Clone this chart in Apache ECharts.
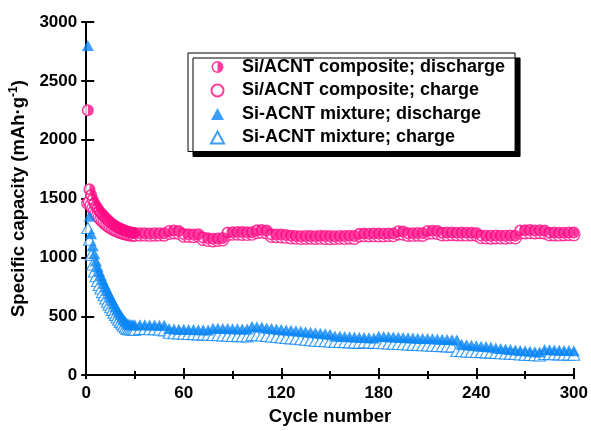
<!DOCTYPE html>
<html>
<head>
<meta charset="utf-8">
<script src="https://cdn.jsdelivr.net/npm/echarts@6/dist/echarts.min.js"></script>
<style>
  html, body { margin: 0; padding: 0; background: #fff; }
  #chart { width: 591px; height: 431px; }
</style>
</head>
<body>
<div id="chart"></div>
<script>
// cycle numbers (every cycle first, then every 3rd)
var cycles = [1,2,3,4,5,6,7,8,9,10,11,12,13,14,15,16,17,18,19,20,21,22,23,24,25,26,27,28,29,30,
  33,36,39,42,45,48,51,54,57,60,63,66,69,72,75,78,81,84,87,90,93,96,99,102,105,108,111,114,117,120,
  123,126,129,132,135,138,141,144,147,150,153,156,159,162,165,168,171,174,177,180,183,186,189,192,195,198,201,204,207,210,
  213,216,219,222,225,228,231,234,237,240,243,246,249,252,255,258,261,264,267,270,273,276,279,282,285,288,291,294,297,300];

// Si/ACNT composite (mAh/g)
var compDischarge = [2250,1580,1530,1490,1460,1435,1415,1395,1378,1362,1347,1333,1320,1307,1295,1284,1274,1265,1257,1250,1243,1237,1231,1226,1221,1217,1213,1210,1208,1207,
  1205,1206,1204,1205,1206,1205,1225,1228,1224,1198,
  1196,1195,1197,1170,1162,1158,1160,1165,1212,1214,
  1216,1215,1213,1214,1230,1232,1228,1196,1195,1194,
  1190,1185,1182,1180,1182,1181,1180,1183,1182,1181,
  1180,1182,1181,1183,1182,1200,1202,1201,1203,1202,
  1201,1203,1202,1222,1220,1205,1206,1207,1205,1225,
  1226,1224,1210,1211,1212,1210,1211,1209,1210,1208,
  1186,1185,1184,1186,1185,1184,1186,1185,1228,1230,
  1232,1229,1231,1228,1210,1211,1209,1210,1212,1211];
var compCharge = [1460,1470,1440,1415,1392,1372,1354,1338,1323,1309,1296,1284,1273,1263,1254,1246,1238,1231,1225,1219,1214,1209,1205,1201,1198,1195,1193,1191,1190,1190,
  1190,1191,1189,1190,1191,1190,1205,1210,1206,1182,
  1180,1178,1181,1152,1145,1142,1146,1150,1195,1198,
  1199,1197,1196,1198,1212,1215,1210,1180,1178,1176,
  1172,1166,1164,1162,1163,1165,1163,1164,1162,1160,
  1163,1164,1162,1165,1163,1182,1185,1184,1185,1183,
  1184,1186,1185,1200,1198,1188,1189,1190,1188,1206,
  1208,1205,1192,1193,1194,1192,1193,1191,1192,1190,
  1168,1166,1165,1167,1166,1165,1168,1166,1208,1210,
  1212,1209,1211,1208,1192,1193,1191,1192,1194,1193];

// Si-ACNT mixture (mAh/g)
var mixDischarge = [2800,1350,1200,1100,1030,970,920,880,845,810,778,748,718,690,662,635,608,582,558,534,512,492,472,455,440,432,430,428,427,426,
  428,427,426,425,424,423,395,392,390,389,
  388,387,386,385,384,398,397,396,395,394,
  393,392,391,412,410,408,400,396,392,388,
  384,380,376,372,368,364,360,356,352,348,
  332,330,328,326,324,322,320,318,316,330,
  328,326,324,322,320,318,316,314,312,310,
  308,306,304,302,300,298,262,258,254,250,
  246,242,238,230,226,222,218,214,210,206,
  202,198,196,218,216,214,212,210,208,206];
var mixCharge = [1250,1150,1020,940,880,840,800,765,735,705,678,650,624,600,576,553,530,510,490,470,452,436,420,405,395,390,389,388,387,386,
  392,391,390,389,388,380,360,356,354,352,
  350,348,346,344,342,340,338,336,334,332,
  331,330,329,340,338,336,332,328,324,320,
  316,312,308,304,300,296,292,290,288,286,
  284,282,280,278,276,274,278,276,274,272,
  270,268,266,264,262,260,258,256,254,252,
  250,248,246,244,242,205,203,201,199,197,
  195,193,191,187,185,183,181,179,175,173,
  171,169,167,180,178,177,176,175,174,173];

var legendNames = ['Si/ACNT composite; discharge', 'Si/ACNT composite; charge', 'Si-ACNT mixture; discharge', 'Si-ACNT mixture; charge'];

var PINK = '#ff0a84';
var BLUE = '#0a86f5';
var FONT = '"Liberation Sans", Arial, sans-serif';
// ring with the right half filled
var HALF_CIRCLE = 'path://M10,0A10,10,0,1,1,10,20A10,10,0,1,1,10,0ZM10,2.6A7.4,7.4,0,0,0,10,17.4Z';

function pairs(ys) {
    var out = [];
    for (var i = 0; i < cycles.length; i++) {
        out.push([cycles[i], ys[i]]);
    }
    return out;
}

var myChart = echarts.init(document.getElementById('chart'));

var labelStyle = {
    color: '#000', fontFamily: FONT, fontWeight: 'bold', fontSize: 17,
    formatter: function (v) { return String(v); }
};

var option = {
    animation: false,
    backgroundColor: '#fff',
    grid: { left: 82, right: 13, top: 22, bottom: 46 },
    legend: {
        data: legendNames,
        orient: 'vertical',
        left: 188,
        top: 53,
        padding: [5, 10, 5, 22],
        itemWidth: 13,
        itemHeight: 12,
        itemGap: 5.5,
        backgroundColor: '#fff',
        borderColor: '#000',
        borderWidth: 1,
        shadowColor: '#000',
        shadowBlur: 0,
        shadowOffsetX: 5,
        shadowOffsetY: 5,
        textStyle: { color: '#000', fontFamily: FONT, fontWeight: 'bold', fontSize: 18, lineHeight: 18, padding: [0, 0, 0, 13] }
    },
    xAxis: [{
        type: 'value',
        min: 0, max: 300, interval: 60,
        name: 'Cycle number',
        nameLocation: 'middle',
        nameGap: 31,
        nameTextStyle: { color: '#000', fontFamily: FONT, fontWeight: 'bold', fontSize: 18.5 },
        axisLine: { lineStyle: { color: '#000', width: 2 } },
        axisTick: { inside: true, length: 7, lineStyle: { color: '#000', width: 2 } },
        minorTick: { show: true, splitNumber: 2, length: 4, lineStyle: { color: '#000', width: 2 } },
        axisLabel: Object.assign({ margin: 10 }, labelStyle),
        splitLine: { show: false }
    }, {
        type: 'value',
        position: 'top',
        min: 0, max: 300, interval: 30,
        axisLine: { lineStyle: { color: '#000', width: 2 } },
        axisTick: { inside: true, length: 4, lineStyle: { color: '#000', width: 2 } },
        axisLabel: { show: false },
        splitLine: { show: false }
    }],
    yAxis: [{
        type: 'value',
        min: 0, max: 3000, interval: 500,
        name: '{a|Specific capacity (mAh·g}{s|-1}{a|)}',
        nameLocation: 'middle',
        nameGap: 46,
        nameTextStyle: {
            rich: {
                a: { color: '#000', fontFamily: FONT, fontWeight: 'bold', fontSize: 18.5 },
                s: { color: '#000', fontFamily: FONT, fontWeight: 'bold', fontSize: 12, padding: [0, 0, 10, 0] }
            }
        },
        axisLine: { lineStyle: { color: '#000', width: 2 } },
        axisTick: { inside: true, length: 8, lineStyle: { color: '#000', width: 2 } },
        axisLabel: Object.assign({ margin: 9 }, labelStyle),
        splitLine: { show: false }
    }, {
        type: 'value',
        position: 'right',
        min: 0, max: 3000, interval: 500,
        axisLine: { lineStyle: { color: '#000', width: 2 } },
        axisTick: { inside: true, length: 5, lineStyle: { color: '#000', width: 2 } },
        axisLabel: { show: false },
        splitLine: { show: false }
    }],
    series: [
        {
            name: legendNames[1],
            type: 'scatter',
            data: pairs(compCharge),
            symbol: 'circle',
            symbolSize: 12,
            itemStyle: { color: '#fff', borderColor: PINK, borderWidth: 1.4 }
        },
        {
            name: 'composite discharge back',
            type: 'scatter',
            data: pairs(compDischarge),
            symbol: 'circle',
            symbolSize: 12,
            itemStyle: { color: '#fff', borderWidth: 0 }
        },
        {
            name: legendNames[0],
            type: 'scatter',
            data: pairs(compDischarge),
            symbol: HALF_CIRCLE,
            symbolSize: 12,
            itemStyle: { color: PINK, borderWidth: 0 }
        },
        {
            name: legendNames[3],
            type: 'scatter',
            data: pairs(mixCharge),
            symbol: 'triangle',
            symbolSize: [12, 11],
            itemStyle: { color: '#fff', borderColor: BLUE, borderWidth: 1.1 }
        },
        {
            name: legendNames[2],
            type: 'scatter',
            data: pairs(mixDischarge),
            symbol: 'triangle',
            symbolSize: [12, 11],
            itemStyle: { color: BLUE }
        }
    ]
};
myChart.setOption(option);
</script>
</body>
</html>
